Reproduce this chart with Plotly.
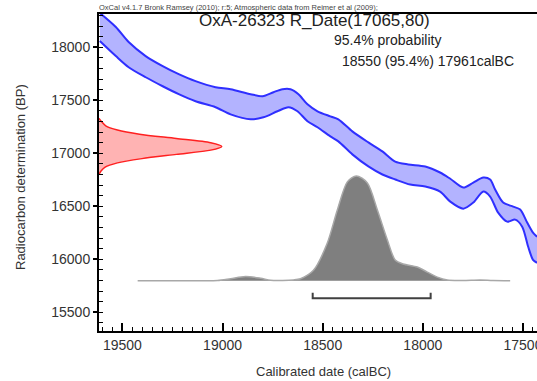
import plotly.graph_objects as go

# ---------------- data ----------------
# Calibration curve (IntCal09) band, upper and lower edges (calBC, BP)
cal_upper_x = [19613, 19533, 19469, 19384, 19299, 19219, 19135, 19035, 18960, 18860, 18800, 18746,
               18701, 18661, 18621, 18576, 18526, 18462, 18422, 18352, 18272, 18202, 18138, 18073,
               17988, 17914, 17863, 17798, 17748, 17698, 17664, 17639, 17599, 17549, 17514, 17479,
               17450, 17430]
cal_upper_y = [18325, 18192, 18050, 17918, 17823, 17747, 17681, 17624, 17605, 17558, 17539, 17577,
               17605, 17605, 17558, 17463, 17397, 17349, 17321, 17207, 17103, 17018, 16922, 16895,
               16876, 16819, 16760, 16677, 16724, 16772, 16753, 16658, 16535, 16497, 16469, 16346,
               16251, 16213]
cal_lower_x = [19613, 19533, 19469, 19384, 19299, 19219, 19135, 19035, 18960, 18860, 18796, 18726,
               18671, 18626, 18576, 18526, 18462, 18422, 18352, 18272, 18202, 18138, 18063, 17988,
               17914, 17863, 17798, 17748, 17698, 17664, 17624, 17579, 17539, 17504, 17474, 17450,
               17430]
cal_lower_y = [18060, 17918, 17813, 17718, 17633, 17558, 17491, 17435, 17368, 17321, 17340, 17397,
               17435, 17397, 17303, 17246, 17160, 17113, 16990, 16876, 16800, 16753, 16705, 16687,
               16639, 16544, 16478, 16535, 16639, 16592, 16440, 16355, 16374, 16308, 16118, 15995,
               15967]

# Radiocarbon measurement R_Date(17065,80): relative density vs BP
rdate_bp = [17330, 17300, 17260, 17220, 17180, 17140, 17100, 17065, 17030, 16990, 16950, 16910,
            16870, 16830, 16800]
rdate_density = [0.0, 0.02, 0.055, 0.15, 0.33, 0.63, 0.91, 1.0, 0.91, 0.63, 0.35, 0.15,
                 0.05, 0.015, 0.0]

# Calibrated probability distribution (relative) vs calBC
post_calbc = [19424, 19100, 19025, 18960, 18885, 18810, 18760, 18700, 18646, 18611, 18546, 18477,
              18427, 18377, 18332, 18277, 18227, 18177, 18138, 18098, 18028, 17978, 17928, 17878,
              17800, 17714, 17650, 17564]
post_prob = [0.0, 0.0, 0.003, 0.02, 0.041, 0.024, 0.005, 0.003, 0.008, 0.02, 0.10, 0.36,
             0.675, 0.943, 1.0, 0.933, 0.675, 0.389, 0.198, 0.16, 0.131, 0.083, 0.035, 0.007,
             0.003, 0.008, 0.002, 0.0]

# 95.4% range
range_from = 18550
range_to = 17961

x_ticks = [19500, 19000, 18500, 18000, 17500]
y_ticks = [15500, 16000, 16500, 17000, 17500, 18000]

# ---------------- layout constants ----------------
X_RANGE = [19617, 17430]
Y_RANGE = [15323, 18315]
RDATE_WIDTH = 613       # calendar years spanned by peak of the red density
POST_BASE = 15797       # BP level of the baseline of the calibrated distribution
POST_HEIGHT = 990       # BP height of the peak of the calibrated distribution
BRACKET_Y = 15633
BRACKET_TICK = 50

FONT = "Liberation Sans, Arial, sans-serif"

fig = go.Figure()

# blue band fill
fig.add_trace(go.Scatter(
    x=cal_upper_x + cal_lower_x[::-1],
    y=cal_upper_y + cal_lower_y[::-1],
    mode="lines", fill="toself", fillcolor="#b3b3ff",
    line=dict(width=0, shape="spline", smoothing=0.8, color="rgba(0,0,0,0)"),
    hoverinfo="skip", showlegend=False))
for xs, ys in ((cal_upper_x, cal_upper_y), (cal_lower_x, cal_lower_y)):
    fig.add_trace(go.Scatter(x=xs, y=ys, mode="lines",
                             line=dict(color="#2f2fff", width=2, shape="spline", smoothing=0.8),
                             hoverinfo="skip", showlegend=False))

# red measurement distribution on y-axis
fig.add_trace(go.Scatter(
    x=[X_RANGE[0] - d * RDATE_WIDTH for d in rdate_density],
    y=rdate_bp, mode="lines", fill="toself", fillcolor="#ffb3b3",
    line=dict(color="#ff2020", width=1.5, shape="spline", smoothing=0.8),
    hoverinfo="skip", showlegend=False))

# grey calibrated distribution
fig.add_trace(go.Scatter(
    x=post_calbc, y=[POST_BASE + p * POST_HEIGHT for p in post_prob],
    mode="lines", fill="toself", fillcolor="#7f7f7f",
    line=dict(color="#a8a8a8", width=1.5, shape="spline", smoothing=0.8),
    hoverinfo="skip", showlegend=False))

# 95.4% range bracket
fig.add_trace(go.Scatter(
    x=[range_from, range_from, range_to, range_to],
    y=[BRACKET_Y + BRACKET_TICK, BRACKET_Y, BRACKET_Y, BRACKET_Y + BRACKET_TICK],
    mode="lines", line=dict(color="#404040", width=2),
    hoverinfo="skip", showlegend=False))

fig.update_layout(
    width=537, height=381,
    margin=dict(l=99, r=0, t=14, b=50, autoexpand=False),
    paper_bgcolor="white", plot_bgcolor="white",
    font=dict(family=FONT, color="#333333"),
    xaxis=dict(range=X_RANGE, tickvals=x_ticks, ticktext=[str(v) for v in x_ticks],
               ticks="inside", ticklen=8, tickwidth=1.5, tickcolor="black",
               ticklabeloverflow="allow", automargin=False,
               minor=dict(dtick=50, tick0=17500, ticks="inside", ticklen=4, tickwidth=1, tickcolor="black"),
               showline=True, linecolor="black", linewidth=2, mirror=True,
               showgrid=False, zeroline=False,
               tickfont=dict(size=14, color="#333333", family=FONT)),
    yaxis=dict(range=Y_RANGE, tickvals=y_ticks, ticktext=[str(v) for v in y_ticks],
               ticks="outside", ticklen=4, tickwidth=1.5, tickcolor="black",
               automargin=False,
               minor=dict(dtick=100, tick0=15500, ticks="inside", ticklen=4, tickwidth=1, tickcolor="black"),
               showline=True, linecolor="black", linewidth=2,
               showgrid=False, zeroline=False,
               tickfont=dict(size=14, color="#333333", family=FONT)),
    annotations=[
        dict(text="OxCal v4.1.7 Bronk Ramsey (2010); r:5; Atmospheric data from Reimer et al (2009);",
             xref="paper", yref="paper", x=-0.005, y=1.0, xanchor="left", yanchor="bottom",
             showarrow=False, font=dict(size=7.5, color="#444444", family=FONT)),
        dict(text="OxA-26323 R_Date(17065,80)", xref="paper", yref="paper",
             x=(314 - 99) / 438, y=(331 - 21) / 317, xanchor="center", yanchor="middle",
             showarrow=False, font=dict(size=17, color="#222222", family=FONT)),
        dict(text="95.4% probability", xref="paper", yref="paper",
             x=(387 - 99) / 438, y=(331 - 40) / 317, xanchor="center", yanchor="middle",
             showarrow=False, font=dict(size=14, color="#222222", family=FONT)),
        dict(text="18550 (95.4%) 17961calBC", xref="paper", yref="paper",
             x=(428 - 99) / 438, y=(331 - 61) / 317, xanchor="center", yanchor="middle",
             showarrow=False, font=dict(size=14, color="#222222", family=FONT)),
        dict(text="Radiocarbon determination (BP)", xref="paper", yref="paper",
             x=(20 - 99) / 438, y=(331 - 177) / 317, xanchor="center", yanchor="middle",
             textangle=-90, showarrow=False, font=dict(size=13, color="#333333", family=FONT)),
        dict(text="Calibrated date (calBC)", xref="paper", yref="paper",
             x=(323 - 99) / 438, y=(331 - 371) / 317, xanchor="center", yanchor="middle",
             showarrow=False, font=dict(size=13, color="#333333", family=FONT)),
    ],
)

fig.write_html("out.html")
